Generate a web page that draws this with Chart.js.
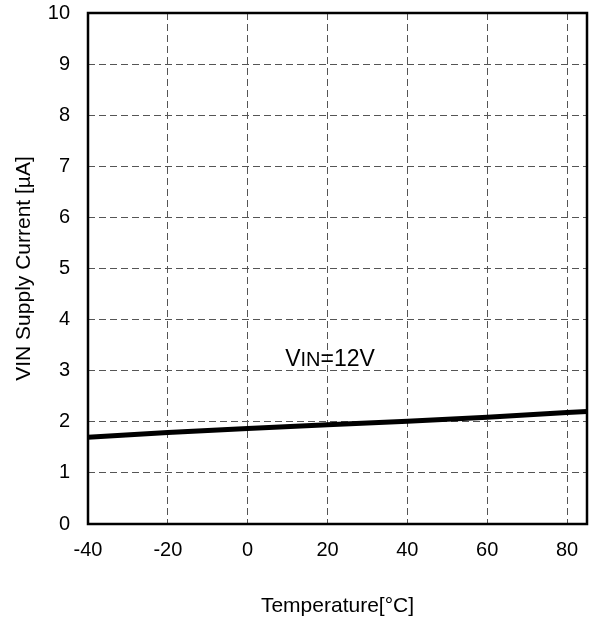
<!DOCTYPE html>
<html lang="en-US">
<head>
    <meta charset="utf-8">
    <title>VIN Supply Current vs Temperature</title>
    <script src="https://cdn.jsdelivr.net/npm/chart.js@4/dist/chart.umd.min.js"></script>
</head>
<style>
    body { margin: 0; background: #fff; }
    #holder { width: 595px; height: 619px; }
</style>
<body>
<div id="holder">
    <canvas id="chart" width="595" height="619"></canvas>
</div>
<script>
    // temperature (°C) vs VIN supply current (µA)
    const temps = [-40, -20, 0, 20, 40, 60, 80, 85];
    const current = [1.70, 1.79, 1.87, 1.94, 2.01, 2.09, 2.18, 2.20];
    const xTicks = [-40, -20, 0, 20, 40, 60, 80];
    const yTicks = [0, 1, 2, 3, 4, 5, 6, 7, 8, 9, 10];
    const notePos = [9.4, 3.1];

    const font = "'Liberation Sans', Arial, sans-serif";

    // frame on all four sides + the condition label
    const frame = {
        id: 'frame',
        afterDatasetsDraw(chart) {
            const {ctx, chartArea: a, scales} = chart;
            ctx.save();
            ctx.strokeStyle = '#000';
            ctx.lineWidth = 2.5;
            ctx.strokeRect(a.left, a.top, a.right - a.left, a.bottom - a.top);
            const x = scales.x.getPixelForValue(notePos[0]);
            const y = scales.y.getPixelForValue(notePos[1]);
            ctx.fillStyle = '#000';
            ctx.textBaseline = 'alphabetic';
            ctx.textAlign = 'left';
            ctx.font = '23px ' + font;
            ctx.fillText('V', x, y);
            let w = ctx.measureText('V').width;
            ctx.font = '20px ' + font;
            ctx.fillText('IN', x + w, y);
            w += ctx.measureText('IN').width;
            ctx.font = '23px ' + font;
            ctx.fillText('=12V', x + w, y);
            ctx.restore();
        }
    };

    const gridStyle = {
        color: '#555',
        lineWidth: 1,
        drawTicks: false
    };

    const config = {
        type: 'line',
        data: {
            datasets: [{
                data: temps.map((t, i) => ({x: t, y: current[i]})),
                borderColor: '#000',
                borderWidth: 5,
                pointRadius: 0,
                tension: 0,
                fill: false
            }]
        },
        options: {
            responsive: false,
            animation: false,
            layout: { padding: { top: 13, right: 8, left: 0, bottom: 0 } },
            plugins: { legend: { display: false }, tooltip: { enabled: false } },
            scales: {
                x: {
                    type: 'linear',
                    min: -40,
                    max: 85,
                    afterBuildTicks: axis => { axis.ticks = xTicks.map(v => ({value: v})); },
                    afterFit: axis => {
                        axis.height = 95;
                        axis.paddingLeft = 0;
                        axis.paddingRight = 0;
                    },
                    grid: gridStyle,
                    border: { display: false, dash: [7, 4] },
                    ticks: { color: '#000', padding: 14, font: { family: font, size: 20 }, maxRotation: 0 },
                    title: {
                        display: true,
                        text: 'Temperature[°C]',
                        color: '#000',
                        font: { family: font, size: 21 },
                        padding: { top: 2, bottom: 0 }
                    }
                },
                y: {
                    min: 0,
                    max: 10,
                    afterBuildTicks: axis => { axis.ticks = yTicks.map(v => ({value: v})); },
                    afterFit: axis => {
                        axis.width = 88;
                        axis.paddingTop = 0;
                        axis.paddingBottom = 0;
                    },
                    grid: gridStyle,
                    border: { display: false, dash: [7, 4] },
                    ticks: { color: '#000', padding: 18, font: { family: font, size: 20 } },
                    title: {
                        display: true,
                        text: 'VIN Supply Current [µA]',
                        color: '#000',
                        font: { family: font, size: 21 },
                        padding: { top: 12, bottom: 0 }
                    }
                }
            }
        },
        plugins: [frame]
    };

    new Chart(document.getElementById('chart').getContext('2d'), config);
</script>
</body>
</html>
